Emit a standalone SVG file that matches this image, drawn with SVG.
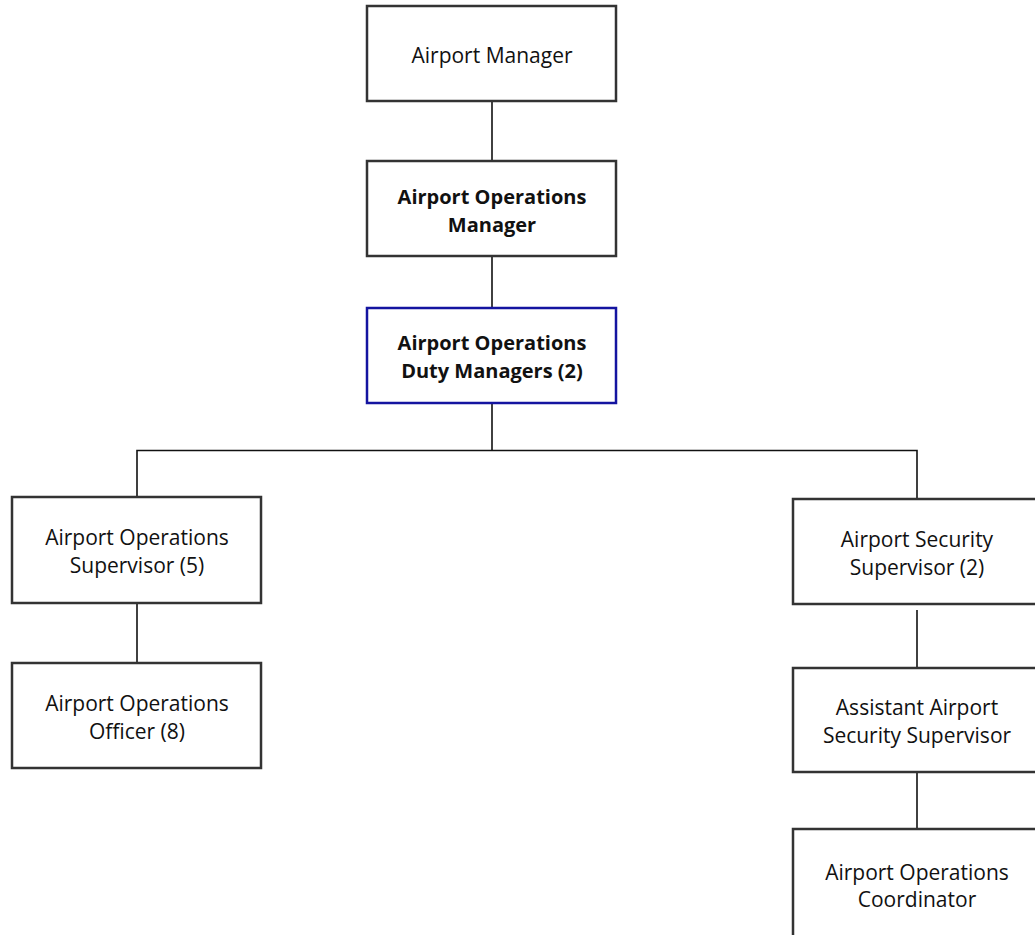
<svg xmlns="http://www.w3.org/2000/svg" width="1035" height="935" viewBox="0 0 1035 935">
<style>
.box{fill:#fff;stroke:#333;stroke-width:2.5}
.blue{fill:#fff;stroke:#1414a0;stroke-width:2.5}
.t{font-family:"Open Sans","Noto Sans",sans-serif;font-size:21px;fill:#111;text-anchor:middle}
.b{font-weight:bold;font-size:20px}
.c{stroke:#111;stroke-width:1.6;fill:none}
</style>
<rect width="1035" height="935" fill="#fff"/>
<g id="connectors">
<line class="c" x1="492" y1="101" x2="492" y2="160"/>
<line class="c" x1="492" y1="256" x2="492" y2="307"/>
<polyline class="c" points="492,403 492,450.5"/>
<polyline class="c" points="137,496 137,450.5 917,450.5 917,498"/>
<line class="c" x1="137" y1="603" x2="137" y2="662"/>
<line class="c" x1="917" y1="610" x2="917" y2="667"/>
<line class="c" x1="917" y1="772" x2="917" y2="828"/>
</g>
<g id="airport-manager">
<rect class="box" x="367" y="6" width="249" height="95"/>
<text class="t" x="492" y="63">Airport Manager</text>
</g>
<g id="airport-operations-manager">
<rect class="box" x="367" y="161" width="249" height="95"/>
<text class="t b" x="492" y="204">Airport Operations</text>
<text class="t b" x="492" y="232">Manager</text>
</g>
<g id="duty-managers">
<rect class="blue" x="367" y="308" width="249" height="95"/>
<text class="t b" x="492" y="350">Airport Operations</text>
<text class="t b" x="492" y="378">Duty Managers (2)</text>
</g>
<g id="operations-supervisor">
<rect class="box" x="12" y="497" width="249" height="106"/>
<text class="t" x="137" y="545">Airport Operations</text>
<text class="t" x="137" y="573">Supervisor (5)</text>
</g>
<g id="operations-officer">
<rect class="box" x="12" y="663" width="249" height="105"/>
<text class="t" x="137" y="711">Airport Operations</text>
<text class="t" x="137" y="739">Officer (8)</text>
</g>
<g id="security-supervisor">
<rect class="box" x="793" y="499" width="260" height="105"/>
<text class="t" x="917" y="547">Airport Security</text>
<text class="t" x="917" y="575">Supervisor (2)</text>
</g>
<g id="assistant-security-supervisor">
<rect class="box" x="793" y="668" width="260" height="104"/>
<text class="t" x="917" y="715">Assistant Airport</text>
<text class="t" x="917" y="743">Security Supervisor</text>
</g>
<g id="operations-coordinator">
<rect class="box" x="793" y="829" width="260" height="120"/>
<text class="t" x="917" y="880">Airport Operations</text>
<text class="t" x="917" y="907">Coordinator</text>
</g>
</svg>
